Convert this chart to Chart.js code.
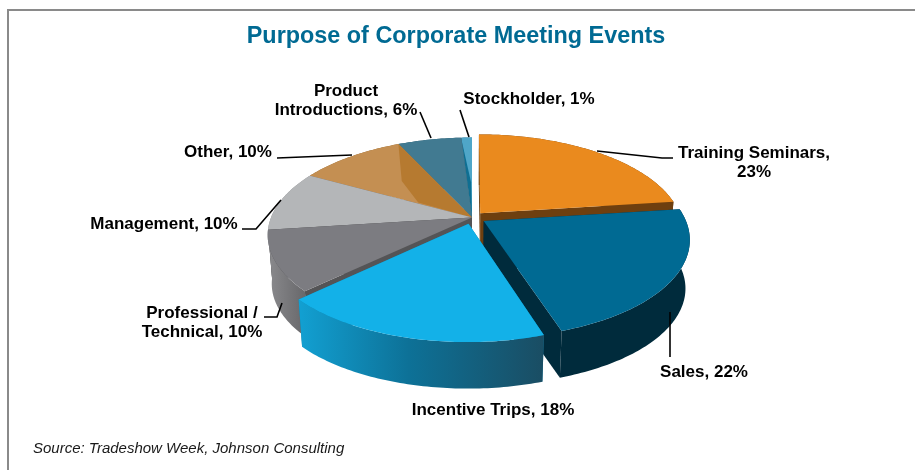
<!DOCTYPE html>
<html>
<head>
<meta charset="utf-8">
<script src="https://cdn.jsdelivr.net/npm/chart.js@4"></script>
<style>
  html, body { margin: 0; padding: 0; background: #fff; overflow: hidden; }
  #frame { position: absolute; left: 7px; top: 9px; right: 0; bottom: 0; border-left: 2px solid #8a8a8a; border-top: 2px solid #8a8a8a; }
  #wrap { position: absolute; left: 0; top: 0; width: 915px; height: 470px; }
</style>
</head>
<body>
<div id="frame"></div>
<div id="wrap"><canvas id="chartPurpose"></canvas></div>
<script>
const categories = ["Training Seminars", "Sales", "Incentive Trips", "Professional / Technical", "Management", "Other", "Product Introductions", "Stockholder"];
const shares = [23, 22, 18, 10, 10, 10, 6, 1];
const titleText = "Purpose of Corporate Meeting Events";
const sourceText = "Source: Tradeshow Week, Johnson Consulting";

const topColors = ["#ea8a1e", "#006a93", "#13b1e8", "#7c7c81", "#b4b6b8", "#c48f52", "#417a91", "#4fa6c8"];
const wallColors = ["#6e3f0f", "#002b3c", "#0f7ea6", "#707073", "#8c8d8f", "#8f6530", "#2c5a6d", "#2c7594"];
const explode = [10, 11, 11, 0, 0, 0, 0, 0];
const paintOrder = [7, 6, 5, 4, 0, 3, 1, 2];

// label text lines, centre x, first baseline y, leader polyline
const labelLines = [
    ["Training Seminars,", "23%"],
    ["Sales, 22%"],
    ["Incentive Trips, 18%"],
    ["Professional /", "Technical, 10%"],
    ["Management, 10%"],
    ["Other, 10%"],
    ["Product", "Introductions, 6%"],
    ["Stockholder, 1%"],
];
const labelSpots = [[754, 158], [704, 377], [493, 415], [202, 318], [164, 229], [228, 157], [346, 96], [529, 104]];
const leaders = [
    [[597, 151], [662, 158], [673, 158]],
    [[670, 312], [670, 357]],
    [],
    [[264, 317], [277, 317], [282, 303]],
    [[242, 229], [256, 229], [281, 200]],
    [[277, 158], [352, 155]],
    [[420, 112], [431, 138]],
    [[460, 110], [469, 137]],
];

// pie tilt: k is the perspective, the rest are pixel sizes of the disc
const tilt = { shiftX: 16, rx: 201, ry: 94.4, k: 0.18, depth: 49, bottomScale: 0.98 };

function project(el, u, v, low) {
    const s = low ? tilt.bottomScale : 1;
    const w = 1 + tilt.k * v;
    return {
        x: el.x + tilt.shiftX + s * tilt.rx * u / w,
        y: el.y + (low ? tilt.depth : 0) - s * tilt.ry * v / w,
    };
}

function slicePoint(el, angle, r, low) {
    const mid = (el.startAngle + el.endAngle) / 2 + Math.PI / 2;
    const d = (el.options.offset || 0) / el.outerRadius;
    const t = angle + Math.PI / 2;
    return project(el, d * Math.sin(mid) + r * Math.sin(t), d * Math.cos(mid) + r * Math.cos(t), low);
}

function edgePoints(el, low) {
    const pts = [];
    const n = Math.max(4, Math.ceil((el.endAngle - el.startAngle) * 60));
    for (let i = 0; i <= n; i++) {
        const a = el.startAngle + (el.endAngle - el.startAngle) * i / n;
        pts.push(slicePoint(el, a, 1, low));
    }
    return pts;
}

function fillPoly(ctx, pts, fill) {
    ctx.beginPath();
    pts.forEach((p, i) => i ? ctx.lineTo(p.x, p.y) : ctx.moveTo(p.x, p.y));
    ctx.closePath();
    ctx.fillStyle = fill;
    ctx.fill();
}

function drawSlice(ctx, el, i) {
    const top = edgePoints(el, false);
    const low = edgePoints(el, true);
    const apexTop = slicePoint(el, el.startAngle, 0, false);
    const apexLow = slicePoint(el, el.startAngle, 0, true);
    let wall = wallColors[i];
    if (i === 2) {
        const g = ctx.createLinearGradient(top[top.length - 1].x, 0, top[0].x, 0);
        g.addColorStop(0, "#12a0d2");
        g.addColorStop(0.45, "#0d7197");
        g.addColorStop(1, "#1a4d63");
        wall = g;
    }
    if (i === 3) {
        const g = ctx.createLinearGradient(top[top.length - 1].x, 0, top[0].x, 0);
        g.addColorStop(0, "#8a8a8d");
        g.addColorStop(1, "#68686b");
        wall = g;
    }
    // cut faces, then the rim, then the top
    const cutColor = i === 3 ? "#545456" : wallColors[i];
    fillPoly(ctx, [apexTop, top[0], low[0], apexLow], cutColor);
    fillPoly(ctx, [apexTop, top[top.length - 1], low[low.length - 1], apexLow], cutColor);
    fillPoly(ctx, top.concat(low.slice().reverse()), wall);
    fillPoly(ctx, [apexTop].concat(top), el.options.backgroundColor);

    // darker folds on the back slices
    const span = el.endAngle - el.startAngle;
    if (i === 5) {
        fillPoly(ctx, [
            apexTop,
            slicePoint(el, el.startAngle + span * 0.05, 0.32, false),
            slicePoint(el, el.startAngle + span * 0.53, 0.56, false),
            slicePoint(el, el.endAngle, 1, false),
        ], "#b67a30");
    }
    if (i === 7) {
        fillPoly(ctx, [
            apexTop,
            slicePoint(el, el.startAngle, 0.95, false),
            slicePoint(el, el.startAngle + span * 0.8, 0.4, false),
        ], "#0f6f92");
    }
}

const tiltedPie = {
    id: "tiltedPie",
    beforeDatasetsDraw(chart) {
        const ctx = chart.ctx;
        const arcs = chart.getDatasetMeta(0).data;
        ctx.save();
        paintOrder.forEach(i => drawSlice(ctx, arcs[i], i));
        ctx.restore();
        return false;
    },
    afterDraw(chart) {
        const ctx = chart.ctx;
        ctx.save();
        ctx.strokeStyle = "#000";
        ctx.lineWidth = 1.6;
        leaders.forEach(line => {
            if (!line.length) return;
            ctx.beginPath();
            line.forEach((p, i) => i ? ctx.lineTo(p[0], p[1]) : ctx.moveTo(p[0], p[1]));
            ctx.stroke();
        });
        ctx.fillStyle = "#000";
        ctx.font = "bold 17px 'Liberation Sans', Arial, sans-serif";
        ctx.textAlign = "center";
        ctx.textBaseline = "alphabetic";
        labelLines.forEach((lines, i) => {
            lines.forEach((t, j) => ctx.fillText(t, labelSpots[i][0], labelSpots[i][1] + j * 19));
        });
        ctx.restore();
    },
};

new Chart(document.getElementById("chartPurpose"), {
    type: "pie",
    data: {
        labels: categories,
        datasets: [{ data: shares, backgroundColor: topColors, offset: explode, borderWidth: 0 }],
    },
    options: {
        responsive: true, maintainAspectRatio: false, animation: false, events: [],
        layout: { padding: { left: 33, right: 36 } },
        plugins: {
            legend: { display: false },
            tooltip: { enabled: false },
            title: {
                display: true, text: titleText, color: "#006a93",
                font: { family: "'Liberation Sans', Arial, sans-serif", size: 23.4, weight: "bold" },
                padding: { top: 23, bottom: 0 },
            },
            subtitle: {
                display: true, position: "bottom", align: "start", text: sourceText, color: "#1a1a1a",
                font: { family: "'Liberation Sans', Arial, sans-serif", size: 15, style: "italic" },
                padding: { top: 56, bottom: 12 },
            },
        },
    },
    plugins: [tiltedPie],
});
</script>
</body>
</html>
